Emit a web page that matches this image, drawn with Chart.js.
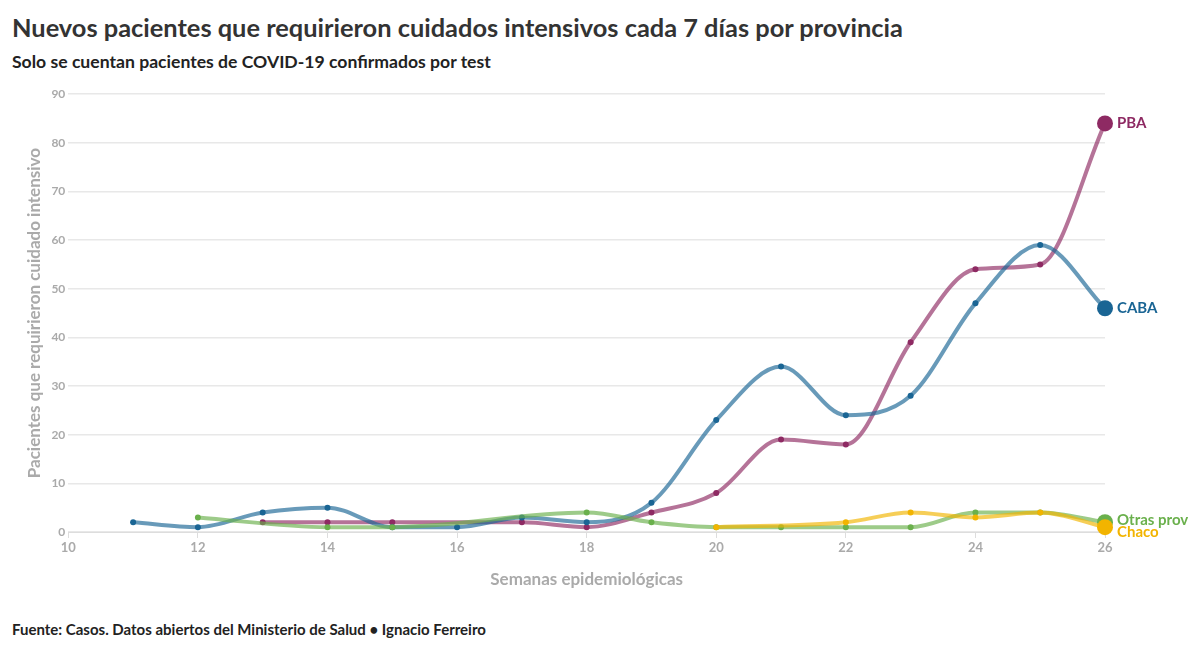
<!DOCTYPE html>
<html><head><meta charset="utf-8">
<script src="https://cdn.jsdelivr.net/npm/chart.js@4"></script>
<style>
body{margin:0;background:#fff;font-family:Lato,sans-serif;width:1200px;height:650px;overflow:hidden;position:relative}
h1{position:absolute;left:12px;top:12px;margin:0;font-size:25.4px;color:#333;font-weight:700}
h2{position:absolute;left:12px;top:51px;margin:0;font-size:17.6px;color:#222;font-weight:700}
#src{position:absolute;left:12px;top:620px;font-size:15px;font-weight:700;color:#222}
#wrap{position:absolute;left:0;top:84px;width:1200px;height:510px}
</style></head><body>
<h1>Nuevos pacientes que requirieron cuidados intensivos cada 7 días por provincia</h1>
<h2>Solo se cuentan pacientes de COVID-19 confirmados por test</h2>
<div id="wrap"><canvas id="c"></canvas></div>
<div id="src">Fuente: Casos. Datos abiertos del Ministerio de Salud • Ignacio Ferreiro</div>
<script>
const weeks = [11,12,13,14,15,16,17,18,19,20,21,22,23,24,25,26];
const caba  = [2,1,4,5,1,1,3,2,6,23,34,24,28,47,59,46];
const pba   = [null,null,2,2,2,null,2,1,4,8,19,18,39,54,55,84];
const otras = [null,3,null,1,1,null,null,4,2,1,1,1,1,4,4,2];
const chaco = [null,null,null,null,null,null,null,null,null,1,null,2,4,3,4,1];
const names = ["Chaco","Otras prov","CABA","PBA"];
const colors = ["#f2b400","#6ab04c","#1a6594","#8e2a63"];
const series = [chaco, otras, caba, pba];

const endLabels = {
  id: "endLabels",
  afterDatasetsDraw(chart) {
    const ctx = chart.ctx;
    ctx.save();
    ctx.font = "bold 15px Lato";
    ctx.textBaseline = "middle";
    chart.data.datasets.forEach((ds, i) => {
      const pts = chart.getDatasetMeta(i).data;
      const p = pts[pts.length - 1];
      ctx.fillStyle = colors[i];
      ctx.fillText(names[i], p.x + 12, p.y + (i === 0 ? 5 : (i === 1 ? -2 : 0)));
    });
    ctx.restore();
  }
};

new Chart(document.getElementById("c"), {
  type: "line",
  data: {
    datasets: series.map((s, i) => ({
      label: names[i],
      data: weeks.map((w, j) => ({ x: w, y: s[j] })),
      borderColor: colors[i] + "a8",
      backgroundColor: colors[i],
      pointBackgroundColor: colors[i],
      borderWidth: 4,
      pointRadius: weeks.map((w, j) => j === weeks.length - 1 ? 8 : 3),
      pointBorderWidth: 0,
      tension: 0.4,
      cubicInterpolationMode: "monotone",
      spanGaps: true,
      clip: false,
    })),
  },
  options: {
    responsive: true,
    maintainAspectRatio: false,
    animation: false,
    layout: { padding: { right: 95, left: 20, top: 4 } },
    plugins: { legend: { display: false }, tooltip: { enabled: false } },
    scales: {
      x: {
        type: "linear", min: 10, max: 26,
        ticks: { stepSize: 2, color: "#aaa", padding: 2, font: { family: "Lato", size: 13, weight: "bold" } },
        grid: { drawOnChartArea: false, color: "#ddd", tickLength: 6 },
        border: { color: "#ddd" },
        title: { display: true, text: "Semanas epidemiológicas", color: "#aaa", padding: { top: 12 }, font: { family: "Lato", size: 17, weight: "bold" } },
      },
      y: {
        min: 0, max: 90,
        ticks: { stepSize: 10, color: "#aaa", font: { family: "Lato", size: 12, weight: "bold" } },
        grid: { color: "#e8e8e8", lineWidth: 1.5, drawTicks: false },
        border: { display: false },
        title: { display: true, text: "Pacientes que requirieron cuidado intensivo", color: "#aaa", font: { family: "Lato", size: 17, weight: "bold" } },
      },
    },
  },
  plugins: [endLabels],
});
</script>
</body></html>
